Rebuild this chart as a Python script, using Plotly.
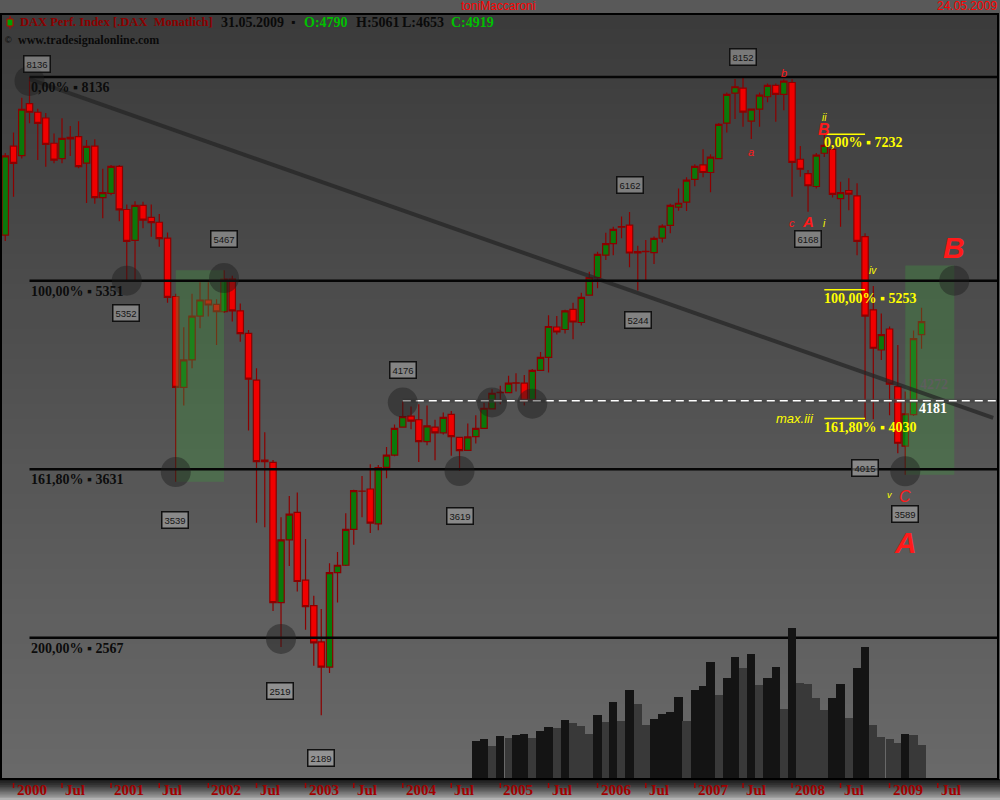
import math
import pandas as pd
import plotly.graph_objects as go

# ---------------- data ----------------
dates = pd.date_range("1999-12-01", "2009-05-01", freq="MS")

opens = [5876,
         7058, 6920, 7703, 7567, 7478, 7100, 6880, 7185, 7196, 6815, 7058, 6348,
         6405, 6770, 6195, 5815, 6248, 6096, 6035, 5840, 5180, 4297, 4546, 4976,
         5143, 5097, 5020, 5368, 5030, 4802, 4362, 3688, 3683, 2760, 3140, 3322,
         2890, 2742, 2545, 2417, 2935, 2980, 3208, 3470, 3486, 3245, 3645, 3737,
         3960, 4050, 4020, 3843, 3960, 3913, 4065, 3877, 3775, 3883, 3950, 4110,
         4250, 4250, 4335, 4335, 4190, 4450, 4570, 4865, 4840, 5045, 4910, 5195,
         5385, 5640, 5775, 5975, 6000, 5665, 5680, 5670, 5840, 5995, 6225, 6290,
         6590, 6790, 6685, 6878, 7400, 7870, 7952, 7430, 7615, 7812, 7998, 7850,
         8045, 6870, 6670, 6495, 6955, 7010, 6335, 6440, 6370, 5858, 5040, 4640,
         4845, 4303, 3808, 4063, 4790]
highs = [6960,
         7260, 7797, 8136, 7620, 7556, 7245, 7473, 7355, 7430, 7147, 7157, 6737,
         6790, 6790, 6260, 6300, 6295, 6260, 6137, 5910, 5210, 4862, 5210, 5335,
         5335, 5150, 5467, 5405, 5105, 4835, 4469, 3918, 3700, 3290, 3437, 3462,
         3146, 2799, 2723, 2993, 3062, 3316, 3480, 3581, 3668, 3663, 3801, 3980,
         4176, 4130, 4150, 4140, 4020, 4080, 4093, 3880, 3990, 4057, 4163, 4280,
         4311, 4400, 4423, 4408, 4462, 4620, 4985, 4975, 5040, 5115, 5220, 5450,
         5680, 5905, 5980, 6105, 6162, 5750, 5818, 5860, 6010, 6270, 6470, 6620,
         6800, 7012, 6940, 7400, 7880, 8103, 8152, 7620, 7880, 8030, 8030, 8100,
         8100, 7058, 6720, 6960, 7232, 7080, 6560, 6605, 6540, 5900, 5293, 5003,
         4870, 4688, 4260, 4830, 5061]
lows = [5805,
        6360, 6880, 7397, 6860, 6765, 6815, 6815, 6915, 6745, 6277, 6270, 6085,
        6380, 6048, 5352, 5360, 5960, 5858, 5738, 5114, 3539, 4140, 4470, 4852,
        4970, 4688, 5006, 4920, 4720, 3931, 3253, 3222, 2712, 2519, 2976, 2824,
        2610, 2424, 2189, 2387, 2760, 2975, 3108, 3290, 3185, 3203, 3565, 3730,
        3955, 3942, 3685, 3815, 3698, 3900, 3733, 3619, 3770, 3828, 3945, 4105,
        4150, 4245, 4260, 4140, 4185, 4445, 4430, 4790, 4800, 4743, 4880, 5190,
        5268, 5583, 5640, 5838, 5500, 5244, 5360, 5538, 5790, 5900, 6180, 6175,
        6500, 6620, 6420, 6870, 7260, 7463, 7345, 7162, 7345, 7725, 7420, 7600,
        6360, 6628, 6168, 6470, 6900, 6350, 5980, 6185, 5640, 4015, 4025, 4546,
        4058, 3752, 3589, 4050, 4653]
closes = [6917,
          6813, 7614, 7567, 7397, 7084, 6858, 7172, 7165, 6765, 7055, 6348, 6413,
          6770, 6190, 5803, 6248, 6060, 6030, 5836, 5170, 4297, 4546, 4976, 5143,
          5090, 5020, 5370, 5030, 4800, 4370, 3688, 3700, 2760, 3140, 3310, 2882,
          2737, 2540, 2417, 2935, 2980, 3208, 3475, 3472, 3250, 3643, 3737, 3950,
          4045, 4008, 3843, 3970, 3913, 4040, 3883, 3772, 3880, 3950, 4116, 4245,
          4252, 4335, 4338, 4175, 4450, 4570, 4870, 4815, 5030, 4915, 5170, 5385,
          5650, 5775, 5948, 5980, 5665, 5680, 5685, 5838, 5988, 6248, 6275, 6580,
          6770, 6685, 6900, 7380, 7850, 7975, 7570, 7615, 7840, 7998, 7850, 8067,
          6825, 6730, 6505, 6928, 7068, 6390, 6415, 6395, 5803, 4976, 4657, 4790,
          4325, 3830, 4070, 4750, 4919]

vol_dates = pd.date_range("2004-10-01", "2009-05-01", freq="MS")
volume = [38, 40, 33, 43, 41, 44, 45, 41, 48, 52, 51, 59, 56, 53, 45, 64, 57, 77, 58, 89,
          75, 54, 60, 65, 67, 82, 58, 89, 93, 117, 84, 101, 122, 111, 125, 94, 101, 112, 70, 151,
          96, 95, 81, 69, 81, 95, 61, 111, 132, 54, 42, 40, 36, 45, 44, 34]

fib_left_levels = [8136, 5351, 3631, 2567]
fib_left_pcts = ["0,00%", "100,00%", "161,80%", "200,00%"]
fib_right_levels = [7232, 5253, 4030]
fib_right_pcts = ["0,00%", "100,00%", "161,80%"]

pivot_dates = ["2000-03-01", "2002-03-01", "2001-03-01", "2001-09-01", "2004-01-01",
               "2002-10-01", "2003-03-01", "2004-08-01", "2006-05-01", "2006-06-01",
               "2007-07-01", "2008-03-01", "2008-10-01", "2009-03-01"]
pivot_values = [8136, 5467, 5352, 3539, 4176, 2519, 2189, 3619, 6162, 5244, 8152, 6168, 4015, 3589]
pivot_dx = [7, 0, -1, -1, 0, -1, 0, 0, 0, 0, 0, 0, 0, 0]
pivot_dy = [13.5, 31, -32, -38, 31, -44.5, -43, -45, 27, -29, 19, -27, -47.6, -39.5]

circle_dates = ["2000-03-01", "2001-03-01", "2002-03-01", "2001-09-01", "2002-10-01",
                "2004-01-01", "2004-08-01", "2004-12-01", "2005-05-01", "2009-03-01", "2009-09-01"]
circle_values = [8070, 5351, 5380, 3610, 2561, 4165, 3617, 4165, 4155, 3615, 5351]

zone_starts = ["2001-09-01", "2009-03-01"]
zone_ends = ["2002-03-01", "2009-09-01"]
zone_lows = [3539, 3589]
zone_highs = [5467, 5520]

trend_dates = ["2000-03-01", "2010-01-25"]
trend_values = [8100, 4035]

support_level = 4181
support_start = "2004-01-01"

wave_text = ["b", "a", "c", "A", "i", "ii", "B", "iv", "B", "v", "C", "A"]
wave_dates = ["2007-12-01", "2007-08-01", "2008-01-01", "2008-03-01", "2008-05-01", "2008-05-01",
              "2008-05-01", "2008-11-01", "2009-09-01", "2009-01-01", "2009-03-01", "2009-03-01"]
wave_values = [8200, 6970, 6025, 6040, 6025, 7490, 7310, 5460, 5725, 3445, 3430, 3126]
wave_colors = ["#ff1a1a", "#ff1a1a", "#ff1a1a", "#ff1a1a", "#ffff00", "#ffff00",
               "#ff1a1a", "#ffff00", "#ff1a1a", "#ffff00", "#ff1a1a", "#ff1a1a"]
wave_sizes = [11, 11, 11, 15, 10, 10, 16, 10, 30, 9, 16, 30]
wave_bold = [False, False, False, True, False, False, True, False, True, False, False, True]

tick_dates = []
tick_text = []
for yr in range(2000, 2010):
    tick_dates += [f"{yr}-01-01", f"{yr}-07-01"]
    tick_text += [str(yr), "Jul"]

X_RANGE = ["1999-11-15", "2010-02-12"]
Y_RANGE = [3.28326, 3.96671]

# ---------------- geometry helpers (layout only) ----------------
W, H = 1000, 800
ML, MR, MT, MB = 1, 2, 14, 21
PW = W - ML - MR
PH = H - MT - MB


def pxp(x):
    return (x - ML) / PW


def pyp(y):
    return (H - MB - y) / PH


SERIF = "Liberation Serif"
SANS = "Liberation Sans"

fig = go.Figure()

# volume
vol_colors = ["#141414"] + ["#141414" if volume[i] > volume[i - 1] else "#393939"
                            for i in range(1, len(volume))]
fig.add_trace(go.Bar(x=vol_dates, y=volume, yaxis="y2",
                     marker=dict(color=vol_colors, line=dict(width=0)),
                     width=30.44 * 86400000, hoverinfo="skip"))

# green zones
for d0, d1, lo, hi in zip(zone_starts, zone_ends, zone_lows, zone_highs):
    fig.add_trace(go.Scatter(x=[d0, d1, d1, d0, d0], y=[lo, lo, hi, hi, lo], mode="lines",
                             fill="toself", fillcolor="rgba(62,148,62,0.35)",
                             line=dict(width=0), hoverinfo="skip"))

# trend line
fig.add_trace(go.Scatter(x=trend_dates, y=trend_values, mode="lines",
                         line=dict(color="rgba(36,36,36,0.7)", width=4), hoverinfo="skip"))

# candles
fig.add_trace(go.Candlestick(x=dates, open=opens, high=highs, low=lows, close=closes,
                             increasing=dict(line=dict(color="#8b0000", width=1.2), fillcolor="#0b780b"),
                             decreasing=dict(line=dict(color="#8b0000", width=1.2), fillcolor="#f00000"),
                             whiskerwidth=0, hoverinfo="skip"))

# fibonacci lines (left set)
for lvl in fib_left_levels:
    fig.add_trace(go.Scatter(x=["2000-03-01", X_RANGE[1]], y=[lvl, lvl], mode="lines",
                             line=dict(color="#050505", width=2.5), hoverinfo="skip"))
# yellow overlines (right set)
for lvl in fib_right_levels:
    fig.add_trace(go.Scatter(x=["2008-05-01", "2008-10-01"], y=[lvl, lvl], mode="lines",
                             line=dict(color="#ffff00", width=1.5), hoverinfo="skip"))

# dashed support line
fig.add_trace(go.Scatter(x=[support_start, X_RANGE[1]], y=[support_level, support_level], mode="lines",
                         line=dict(color="rgba(70,70,70,0.7)", width=4), hoverinfo="skip"))
fig.add_trace(go.Scatter(x=[support_start, X_RANGE[1]], y=[support_level, support_level], mode="lines",
                         line=dict(color="#ffffff", width=1.5, dash="8px,5px"), hoverinfo="skip"))

# circles
fig.add_trace(go.Scatter(x=circle_dates, y=circle_values, mode="markers",
                         marker=dict(size=30, color="rgba(28,28,28,0.45)", line=dict(width=0)),
                         hoverinfo="skip"))

# ---------------- shapes ----------------
shapes = []
N = 51
for i in range(N):
    t = (i + 0.5) / N  # 0 bottom -> 1 top
    c = int(round(105 - 46 * t))
    shapes.append(dict(type="rect", xref="paper", yref="paper", x0=0, x1=1,
                       y0=i / N, y1=(i + 1) / N + 0.001, fillcolor=f"rgb({c},{c},{c})",
                       line=dict(width=0), layer="below"))
NB = 11
for i in range(NB):
    t = i / (NB - 1)
    c = int(round(28 + 150 * t ** 1.3))
    y_top = 779 + i * 21 / NB
    y_bot = 779 + (i + 1) * 21 / NB
    shapes.append(dict(type="rect", xref="paper", yref="paper", x0=pxp(0), x1=pxp(1000),
                       y0=pyp(y_bot + 0.3), y1=pyp(y_top), fillcolor=f"rgb({c},{c},{c})",
                       line=dict(width=0), layer="below"))
# panel border
shapes.append(dict(type="rect", xref="paper", yref="paper", x0=0, x1=1, y0=0, y1=1,
                   line=dict(color="#000000", width=2), layer="above"))
# tick marks
for d in tick_dates:
    shapes.append(dict(type="line", xref="x", yref="paper", x0=d, x1=d,
                       y0=pyp(783), y1=pyp(788), line=dict(color="#a00000", width=1.5)))
# header icon
shapes.append(dict(type="line", xref="paper", yref="paper", x0=pxp(10), x1=pxp(10),
                   y0=pyp(29), y1=pyp(16), line=dict(color="#c00000", width=1)))
shapes.append(dict(type="rect", xref="paper", yref="paper", x0=pxp(7), x1=pxp(13),
                   y0=pyp(26), y1=pyp(19), fillcolor="#00a000", line=dict(color="#c00000", width=1)))

# ---------------- annotations ----------------
ann = []


def txt(x, y, text, size, color, family=SERIF, xanchor="left", **kw):
    d = dict(x=x, y=y, xref="paper", yref="paper", text=text, showarrow=False,
             font=dict(size=size, color=color, family=family), xanchor=xanchor, yanchor="middle")
    d.update(kw)
    ann.append(d)


# top band
txt(pxp(498), pyp(6), "toniMaccaroni", 12, "#ff0000", SANS, "center")
txt(pxp(999), pyp(6), "24.05.2009", 12, "#ff0000", SANS, "right")
# header row
txt(pxp(18), pyp(22.5), "<b>DAX Perf. Index [.DAX\u00a0\u00a0Monatlich]</b>", 12.5, "#8b0000")
txt(pxp(219), pyp(22.5), "<b>31.05.2009</b>", 14, "#0a0a0a")
txt(pxp(289), pyp(22.5), "<b>\u25aa</b>", 12, "#0a0a0a")
txt(pxp(302), pyp(22.5), "<b>O:4790</b>", 14, "#00c000")
txt(pxp(354), pyp(22.5), "<b>H:5061</b>", 14, "#0a0a0a")
txt(pxp(400), pyp(22.5), "<b>L:4653</b>", 14, "#0a0a0a")
txt(pxp(449), pyp(22.5), "<b>C:4919</b>", 14, "#00c000")
txt(pxp(3), pyp(40), "©", 9, "#0a0a0a", SANS)
txt(pxp(16), pyp(40), "<b>www.tradesignalonline.com</b>", 12, "#0a0a0a")

# x axis labels
for d, t in zip(tick_dates, tick_text):
    ann.append(dict(x=d, y=pyp(790), xref="x", yref="paper", text=f"<b>{t}</b>", showarrow=False,
                    xanchor="left", yanchor="middle", xshift=1,
                    font=dict(size=15, color="#a00000", family=SERIF)))

# fib labels left
for lvl, p in zip(fib_left_levels, fib_left_pcts):
    ann.append(dict(x="2000-03-01", y=math.log10(lvl), xref="x", yref="y",
                    text=f"<b>{p} \u25aa {lvl}</b>", showarrow=False, xanchor="left",
                    yanchor="middle", yshift=-10.5, xshift=-1,
                    font=dict(size=14, color="#0c0c0c", family=SERIF)))
# fib labels right (yellow)
for lvl, p in zip(fib_right_levels, fib_right_pcts):
    ann.append(dict(x="2008-05-01", y=math.log10(lvl), xref="x", yref="y",
                    text=f"<b>{p} \u25aa {lvl}</b>", showarrow=False, xanchor="left",
                    yanchor="middle", yshift=-8.5, xshift=-2,
                    font=dict(size=14, color="#ffff00", family=SERIF)))
ann.append(dict(x="2008-01-13", y=math.log10(fib_right_levels[2]), xref="x", yref="y",
                text="<i>max.iii</i>", showarrow=False, xanchor="center", yanchor="middle",
                font=dict(size=13, color="#ffff00", family=SANS)))

# support labels
ann.append(dict(x="2009-06-14", y=math.log10(support_level), xref="x", yref="y",
                text=f"<b>{support_level}</b>", showarrow=False, xanchor="center", yanchor="middle",
                yshift=-7.4, font=dict(size=14, color="#ffffff", family=SERIF)))
ann.append(dict(x="2009-06-16", y=math.log10(4272), xref="x", yref="y",
                text="<b>4272</b>", showarrow=False, xanchor="center", yanchor="middle",
                yshift=6, font=dict(size=14, color="#5e5e5e", family=SERIF)))

# pivot value boxes
for d, v, dx, dy in zip(pivot_dates, pivot_values, pivot_dx, pivot_dy):
    ann.append(dict(x=d, y=math.log10(v), xref="x", yref="y", text=str(v), showarrow=False,
                    xanchor="center", yanchor="middle", xshift=dx, yshift=dy,
                    font=dict(size=9.5, color="#151515", family=SANS),
                    bgcolor="rgba(205,205,205,0.42)", bordercolor="#111111",
                    borderwidth=1.5, borderpad=2))

# wave labels
for t, d, v, c, s, b in zip(wave_text, wave_dates, wave_values, wave_colors, wave_sizes, wave_bold):
    label = f"<i>{t}</i>"
    if b:
        label = f"<b>{label}</b>"
    ann.append(dict(x=d, y=math.log10(v), xref="x", yref="y", text=label, showarrow=False,
                    xanchor="center", yanchor="middle",
                    font=dict(size=s, color=c, family=SANS)))

fig.update_layout(
    width=W, height=H,
    margin=dict(l=ML, r=MR, t=MT, b=MB, pad=0),
    paper_bgcolor="#595959", plot_bgcolor="#525252",
    showlegend=False, hovermode=False,
    bargap=0, boxgap=0.1, boxgroupgap=0.05,
    xaxis=dict(type="date", range=X_RANGE, showgrid=False, zeroline=False,
               showticklabels=False, ticks="", rangeslider=dict(visible=False), fixedrange=True),
    yaxis=dict(type="log", range=Y_RANGE, showgrid=False, zeroline=False,
               showticklabels=False, ticks="", fixedrange=True),
    yaxis2=dict(overlaying="y", range=[0, PH], visible=False, fixedrange=True),
    shapes=shapes, annotations=ann,
)

fig.write_html("out.html", config={"displayModeBar": False},
               post_script="document.body.style.margin='0';document.body.style.overflow='hidden';")
